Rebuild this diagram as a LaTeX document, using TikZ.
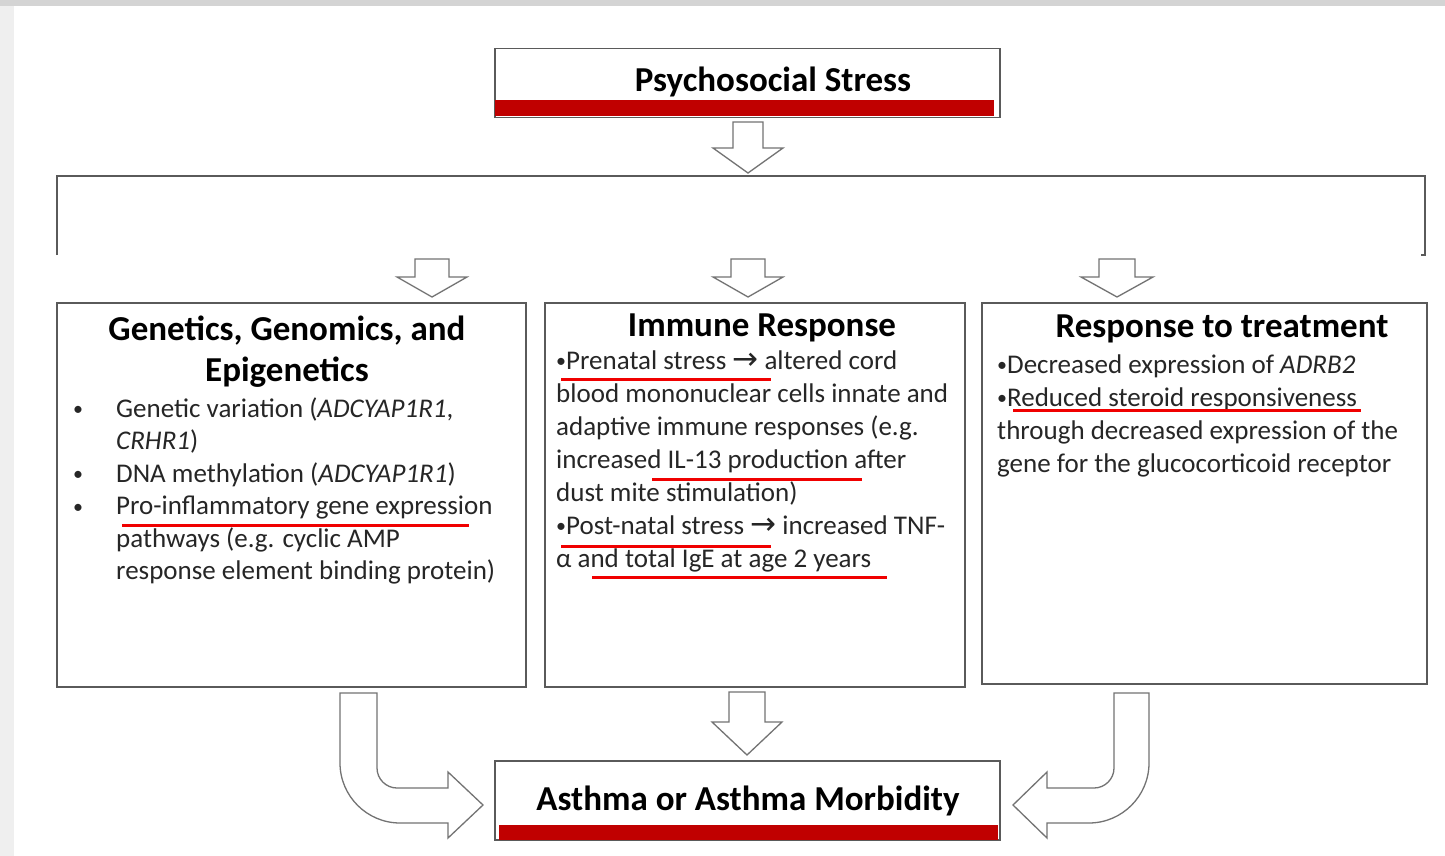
\documentclass[tikz,border=0pt]{standalone}
\usepackage{fontspec}
\setmainfont{Carlito}
\newfontfamily\arrowfont{DejaVu Sans}
\definecolor{boxgray}{HTML}{5A5A5A}
\definecolor{barred}{HTML}{C00000}
\definecolor{ulred}{HTML}{F00000}
\definecolor{txt}{HTML}{262626}
\definecolor{stripA}{HTML}{D4D4D4}
\definecolor{stripB}{HTML}{EFEFEF}
\newcommand\ra{\raisebox{-0.5pt}{\arrowfont\fontsize{31}{31}\selectfont →}}
\newcommand\bul{\raisebox{1.5pt}{\fontsize{20}{20}\selectfont •}}
\newcommand\downblock[6]{\draw[blk] ({#1-#5},#2) -- ({#1+#5},#2) -- ({#1+#5},#3) -- ({#1+#6},#3) -- (#1,#4) -- ({#1-#6},#3) -- ({#1-#5},#3) -- cycle;}
\begin{document}
\begin{tikzpicture}[x=1pt,y=-1pt,
  box/.style={draw=boxgray, line width=1.5pt, fill=white, inner sep=0pt, anchor=north west},
  blk/.style={draw=boxgray!85, line width=1.3pt, fill=white, line join=miter},
  ttl/.style={font=\bfseries\fontsize{35}{41}\selectfont, text=black, inner sep=0pt, anchor=base},
  body/.style={font=\fontsize{27}{33}\selectfont, text=txt, inner sep=0pt, anchor=base west},
  ul/.style={draw=ulred, line width=3pt},
  bar/.style={fill=barred, draw=none}]
\useasboundingbox (0,0) rectangle (1445,856);
\fill[white] (0,0) rectangle (1445,856);
\fill[stripB] (0,0) rectangle (14,856);
\fill[stripA] (0,0) rectangle (1445,6);

% top box
\node[box, minimum width=505pt, minimum height=69pt] (ps) at (494,48) {};
\fill[bar] (495,100) rectangle (994,116);
\node[ttl] (pst) at (773,92) {Psychosocial Stress};

% arrow to bracket
\downblock{748}{122}{148}{173}{15}{35}

% bracket
\draw[draw=boxgray, line width=1.5pt] (57,255) -- (57,176) -- (1425,176) -- (1425,255) -- (1421,255);

% three small arrows
\downblock{432}{259}{277}{297}{17}{35}
\downblock{748}{259}{277}{297}{17}{35}
\downblock{1117}{259}{277}{297}{18}{36}

% three boxes
\node[box, minimum width=469pt, minimum height=384pt] (gen) at (56,302) {};
\node[box, minimum width=420pt, minimum height=384pt] (imm) at (544,302) {};
\node[box, minimum width=445pt, minimum height=381pt] (rsp) at (981,302) {};

% genetics text
\node[ttl] (g1) at (287,340) {Genetics, Genomics, and};
\node[ttl] (g2) at (287,381) {Epigenetics};
\node[body] (gb1) at (73,417) {\bul};
\node[body] (gb2) at (73,482) {\bul};
\node[body] (gb3) at (73,514.5) {\bul};
\node[body] (gl1) at (116,417) {Genetic variation (\textit{ADCYAP1R1},};
\node[body] (gl2) at (116,449.5) {\textit{CRHR1})};
\node[body] (gl3) at (116,482) {DNA methylation (\textit{ADCYAP1R1})};
\node[body] (gl4) at (116,514.5) {Pro-inflammatory gene expression};
\node[body] (gl5) at (116,547) {pathways (e.g. cyclic AMP};
\node[body] (gl6) at (116,579.5) {response element binding protein)};
\draw[ul] (122,525) -- (469,525);

% immune text
\node[ttl] (it) at (762,336) {Immune Response};
\node[body] (il1) at (556,369) {\bul Prenatal stress \ra{} altered cord};
\node[body] (il2) at (556,402) {blood mononuclear cells innate and};
\node[body] (il3) at (556,435) {adaptive immune responses (e.g.};
\node[body] (il4) at (556,468) {increased IL-13 production after};
\node[body] (il5) at (556,501) {dust mite stimulation)};
\node[body] (il6) at (556,534) {\bul Post-natal stress \ra{} increased TNF-};
\node[body] (il7) at (556,567) {α and total IgE at age 2 years};
\draw[ul] (561,379) -- (771,379);
\draw[ul] (652,479) -- (862,479);
\draw[ul] (561,546) -- (771,546);
\draw[ul] (592,577) -- (887,577);

% response text
\node[ttl] (rt) at (1222,337) {Response to treatment};
\node[body] (rl1) at (997,373) {\bul Decreased expression of \textit{ADRB2}};
\node[body] (rl2) at (997,406) {\bul Reduced steroid responsiveness};
\node[body] (rl3) at (997,439) {through decreased expression of the};
\node[body] (rl4) at (997,472) {gene for the glucocorticoid receptor};
\draw[ul] (1013,410) -- (1361,410);

% bottom box
\node[box, minimum width=505pt, minimum height=79pt] (am) at (494,760) {};
\fill[bar] (499,825) rectangle (998,840);
\node[ttl] (amt) at (748,810) {Asthma or Asthma Morbidity};

% middle bottom arrow
\downblock{747}{692}{722}{755}{18}{35}

% left curved arrow
\draw[blk] (340,693) -- (377,693) -- (377,768) .. controls (377,779) and (386,788) .. (397,788)
  -- (448,788) -- (448,772) -- (483,805) -- (448,838) -- (448,823) -- (400,823)
  .. controls (367,823) and (340,796) .. (340,763) -- cycle;

% right curved arrow
\draw[blk] (1149,693) -- (1114,693) -- (1114,768) .. controls (1114,779) and (1105,788) .. (1094,788)
  -- (1047,788) -- (1047,772) -- (1013,805) -- (1047,838) -- (1047,823) -- (1089,823)
  .. controls (1122,823) and (1149,796) .. (1149,763) -- cycle;
\end{tikzpicture}
\end{document}
